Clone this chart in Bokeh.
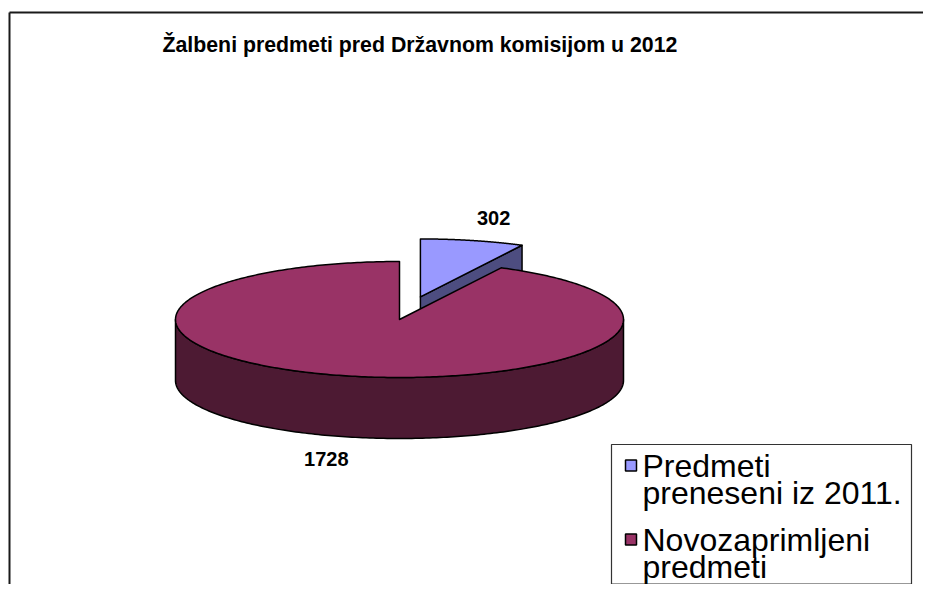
import numpy as np
from bokeh.plotting import figure
from bokeh.models import Range1d
from bokeh.core.properties import value
from bokeh.embed import file_html
from bokeh.resources import INLINE

# ---------------- data ----------------
title_text = "Žalbeni predmeti pred Državnom komisijom u 2012"
categories = ["Predmeti preneseni iz 2011.", "Novozaprimljeni predmeti"]
values = [302, 1728]
value_labels = ["302", "1728"]

# ---------------- style ----------------
top_colors = ["#9999FF", "#993366"]
side_colors = ["#4D4D80", "#4D1A33"]
explode = [0.4, 0.0]
FONT = "Liberation Sans"

W, H = 923, 584
p = figure(width=W, height=H, x_range=Range1d(0, W), y_range=Range1d(H, 0),
           output_backend="svg", toolbar_location=None, min_border=0,
           x_axis_type=None, y_axis_type=None)
p.grid.visible = False
p.outline_line_color = None
p.background_fill_color = "white"

# chart-area frame (only top and left edges fall inside the window)
p.multi_line(xs=[[9, 9], [9, W]], ys=[[H, 12], [12, 12]], line_color="#1a1a1a", line_width=2)

# title
p.text(x=[162], y=[44], text=[title_text], text_font=value(FONT), text_font_size="21.3px",
       text_font_style="bold", text_color="black", text_baseline="middle", text_align="left")

# ---------------- 3D pie geometry ----------------
cx, cy, rx, ry, depth = 399.0, 319.0, 224.0, 58.0, 61.0
view_k = 0.376  # horizontal foreshortening of the tilted view


def proj_t(theta):
    t = np.arctan2(view_k * np.sin(theta), np.cos(theta))
    return t + 2 * np.pi * np.round((theta - t) / (2 * np.pi))


def pt(c, t, dz=0.0):
    return c[0] + rx * np.sin(t), c[1] - ry * np.cos(t) + dz


total = float(sum(values))
angles = np.concatenate([[0.0], np.cumsum(values) / total * 2 * np.pi])

slices = []
for i, v in enumerate(values):
    t0, t1 = proj_t(angles[i]), proj_t(angles[i + 1])
    tm = 0.5 * (t0 + t1)
    c = (cx + explode[i] * rx * np.sin(tm), cy - explode[i] * ry * np.cos(tm))
    slices.append(dict(i=i, t0=t0, t1=t1, tm=tm, c=c))

# paint back-to-front
order = sorted(slices, key=lambda s: -np.cos(s["tm"]))
for s in order:
    i, t0, t1, c = s["i"], s["t0"], s["t1"], s["c"]
    xs, ys = [], []
    # radial walls
    for tw, vis in ((t0, np.sin(t0) < -1e-6), (t1, np.sin(t1) > 1e-6)):
        if vis:
            px, py = pt(c, tw)
            xs.append([c[0], px, px, c[0]])
            ys.append([c[1], py, py + depth, c[1] + depth])
    # outer wall (front half only)
    a, b = max(t0, np.pi / 2), min(t1, 3 * np.pi / 2)
    if b > a:
        tt = np.linspace(a, b, 200)
        ox, oy = pt(c, tt)
        xs.append(list(ox) + list(ox[::-1]))
        ys.append(list(oy) + list((oy + depth)[::-1]))
    if xs:
        p.patches(xs=xs, ys=ys, fill_color=side_colors[i], line_color="black",
                  line_width=1.5, line_join="round")
    # top face
    tt = np.linspace(t0, t1, 400)
    tx, ty = pt(c, tt)
    p.patch(x=[c[0]] + list(tx) + [c[0]], y=[c[1]] + list(ty) + [c[1]],
            fill_color=top_colors[i], line_color="black", line_width=1.5, line_join="round")

# value labels
lr = 1.4
for s in slices:
    lx = s["c"][0] + lr * rx * np.sin(s["tm"])
    ly = s["c"][1] - lr * ry * np.cos(s["tm"]) + (depth if np.cos(s["tm"]) < 0 else 0.0)
    p.text(x=[lx], y=[ly], text=[value_labels[s["i"]]], text_font=value(FONT),
           text_font_size="20px", text_font_style="bold", text_color="black",
           text_align="center", text_baseline="middle")

# ---------------- legend ----------------
p.quad(left=[611], right=[911], top=[444], bottom=[H - 0.5], fill_color="white",
       line_color="#333333", line_width=1.2)
mid0, item_gap, line_h = 465.0, 74.0, 27.0
for i, cat in enumerate(categories):
    ym = mid0 + i * item_gap
    p.rect(x=[630.5], y=[ym], width=11, height=11, fill_color=top_colors[i],
           line_color="black", line_width=1.5)
    for j, line in enumerate(cat.split(" ", 1)):
        p.text(x=[642], y=[ym + j * line_h], text=[line], text_font=value(FONT),
               text_font_size="32px", text_color="black", text_align="left",
               text_baseline="middle")

open("out.html", "w").write(file_html(p, INLINE))
